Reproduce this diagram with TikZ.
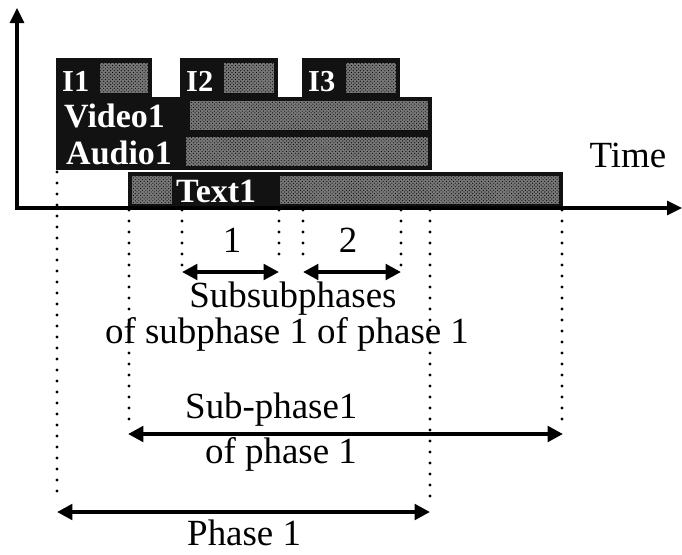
\documentclass[tikz,border=0pt]{standalone}
\usepackage{fontspec}
\setmainfont{Liberation Serif}
\usetikzlibrary{arrows.meta,patterns}
\definecolor{barBlack}{RGB}{18,18,18}
\definecolor{barGrey}{RGB}{120,120,120}

\begin{document}
\begin{tikzpicture}[x=0.03cm,y=-0.03cm,
    lbl/.style={font=\fontsize{31.5}{36}\selectfont, inner sep=0pt},
    barlbl/.style={font=\bfseries\fontsize{29}{32}\selectfont, text=white, inner sep=0pt, anchor=base west},
    guide/.style={line width=2.8pt, dash pattern=on 0pt off 0.33cm, line cap=round},
    axis/.style={line width=2.6pt, -{Triangle[length=0.45cm,width=0.42cm]}},
    span/.style={line width=3.4pt, {Triangle[length=0.46cm,width=0.46cm]}-{Triangle[length=0.46cm,width=0.46cm]}}]
    \useasboundingbox (0,0) rectangle (682,554);

    % bars of the media objects
    \fill[barBlack] (56,58) rectangle (152,97);
    \fill[barBlack] (180,58) rectangle (278,97);
    \fill[barBlack] (302,58) rectangle (400,97);
    \fill[barBlack] (56,97) rectangle (432,133);
    \fill[barBlack] (56,133) rectangle (432,170);
    \fill[barBlack] (128,172) rectangle (563,208);
    \foreach \ga/\gb/\gc/\gd in {100/63/148/93, 224/63/274/93, 346/63/396/93,
                                 190/101/428/130, 186/137/428/166,
                                 132/176/172/204, 280/176/559/204} {
        \fill[barGrey] (\ga,\gb) rectangle (\gc,\gd);
        \fill[pattern=crosshatch dots, pattern color=black] (\ga,\gb) rectangle (\gc,\gd);
    }
    \node[barlbl, font=\bfseries\fontsize{26}{30}\selectfont] (img1) at (62,91) {I1};
    \node[barlbl, font=\bfseries\fontsize{26}{30}\selectfont] (img2) at (186,91) {I2};
    \node[barlbl, font=\bfseries\fontsize{26}{30}\selectfont] (img3) at (308,91) {I3};
    \node[barlbl] (video) at (64,127) {Video1};
    \node[barlbl] (audio) at (66,164) {Audio1};
    \node[barlbl] (text) at (176,202) {Text1};

    % axes
    \coordinate (origin) at (17,208);
    \coordinate (ytop) at (17,8);
    \coordinate (xleft) at (15,208);
    \coordinate (xright) at (682,208);
    \draw[axis] (origin) -- (ytop);
    \draw[axis] (xleft) -- (xright);
    \node[lbl, anchor=base] (time) at (628,167) {Time};

    % dotted boundaries
    \foreach \i/\gx/\gt/\gb in {0/57/172/498, 1/129/210/427, 2/182/210/267, 3/279/210/265,
                                4/303/210/262, 5/401/210/272, 6/430/210/499, 7/562/210/427} {
        \coordinate (gt\i) at (\gx,\gt);
        \coordinate (gb\i) at (\gx,\gb);
        \draw[guide] (gt\i) -- (gb\i);
    }

    % subsubphases
    \coordinate (ss1L) at (182,272);
    \coordinate (ss1R) at (279,272);
    \coordinate (ss2L) at (303,272);
    \coordinate (ss2R) at (401,272);
    \draw[span] (ss1L) -- (ss1R);
    \draw[span] (ss2L) -- (ss2R);
    \node[lbl, anchor=base] (num1) at (232,252) {1};
    \node[lbl, anchor=base] (num2) at (348,252) {2};
    \node[lbl, anchor=base] (subsub) at (293,307) {Subsubphases};
    \node[lbl, anchor=base] (subsubof) at (287,343) {of subphase 1 of phase 1};

    % sub-phase and phase
    \coordinate (spL) at (128,434);
    \coordinate (spR) at (563,434);
    \draw[span] (spL) -- (spR);
    \node[lbl, anchor=base west] (subph) at (185,418) {Sub-phase1};
    \node[lbl, anchor=base west] (subphof) at (205,463) {of phase 1};
    \coordinate (phL) at (57,512);
    \coordinate (phR) at (430,512);
    \draw[span] (phL) -- (phR);
    \node[lbl, anchor=base west] (phase) at (187,545) {Phase 1};
\end{tikzpicture}
\end{document}
